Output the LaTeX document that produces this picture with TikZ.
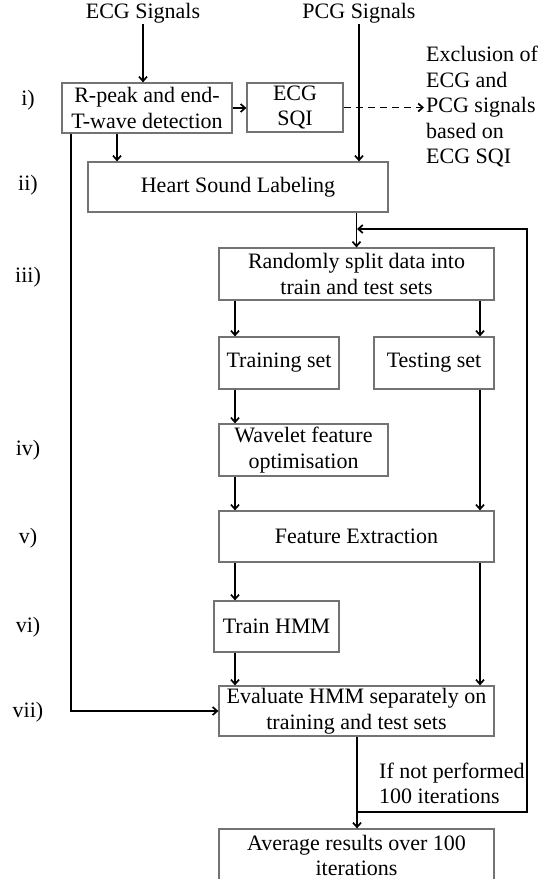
\documentclass[tikz,border=0pt]{standalone}
\usepackage{fontspec}
\setmainfont{Liberation Serif}
\usetikzlibrary{arrows.meta}
\begin{document}
\begin{tikzpicture}[x=1pt,y=-1pt,
  every node/.style={font=\fontsize{22}{25.5}\selectfont},
  box/.style={draw=black!55, line width=1.2pt, fill=white, align=center, inner sep=0pt},
  txt/.style={align=center, inner sep=1pt},
  lbl/.style={inner sep=0pt},
  conn/.style={line width=1.7pt, -{Straight Barb[length=4.5pt,width=8pt]}},
  dconn/.style={line width=1.7pt, dash pattern=on 7pt off 5pt, -{Straight Barb[length=4.5pt,width=8pt]}}
]
\useasboundingbox (0,0) rectangle (558,879);
\fill[white] (0,0) rectangle (558,879);

% helper x levels
\coordinate (xl) at (235,0);
\coordinate (xr) at (480,0);
\coordinate (xe) at (71,0);
\coordinate (xd) at (117,0);

% nodes
\node[txt] (ecg) at (143,13) {ECG Signals};
\node[txt] (pcg) at (359,13) {PCG Signals};
\node[box, minimum width=170pt, minimum height=50pt] (rpeak) at (147,108) {R-peak and end-\\T-wave detection};
\node[box, minimum width=96pt, minimum height=49pt] (sqi) at (295,107.5) {ECG\\SQI};
\node[align=left, anchor=west, inner sep=2pt] (excl) at (424,107) {Exclusion of\\ECG and\\PCG signals\\based on\\ECG SQI};
\node[box, minimum width=300pt, minimum height=50pt] (hsl) at (238,187) {Heart Sound Labeling};
\node[box, minimum width=275pt, minimum height=52pt] (split) at (356.5,274) {Randomly split data into\\train and test sets};
\node[box, minimum width=120pt, minimum height=52pt] (train) at (279,363) {Training set};
\node[box, minimum width=120pt, minimum height=52pt] (test) at (434,363) {Testing set};
\node[box, minimum width=169pt, minimum height=52pt] (wave) at (303.5,450) {Wavelet feature\\optimisation};
\node[box, minimum width=275pt, minimum height=51pt] (fe) at (356.5,536.5) {Feature Extraction};
\node[box, minimum width=125pt, minimum height=51pt] (hmm) at (276.5,626.5) {Train HMM};
\node[box, minimum width=275pt, minimum height=50pt] (eval) at (356.5,711) {Evaluate HMM separately on\\training and test sets};
\node[box, minimum width=275pt, minimum height=53pt] (avg) at (356.5,855.5) {Average results over 100\\iterations};
\node[align=left, anchor=west, inner sep=2pt] (ifnot) at (377,783.5) {If not performed\\100 iterations};

% step labels
\node[lbl] (l1) at (28,100) {i)};
\node[lbl] (l2) at (28,185) {ii)};
\node[lbl] (l3) at (28,277) {iii)};
\node[lbl] (l4) at (28,450) {iv)};
\node[lbl] (l5) at (28,538) {v)};
\node[lbl] (l6) at (28,627) {vi)};
\node[lbl] (l7) at (28,712) {vii)};

% loop coordinates
\coordinate (j) at (357,812);
\coordinate (rt) at (527,229);
\coordinate (k) at (357,229);

% connectors
\draw[conn] (ecg.south) -- (ecg.south |- rpeak.north);
\draw[conn] (pcg.south) -- (pcg.south |- hsl.north);
\draw[conn] (rpeak.east) -- (rpeak.east -| sqi.west);
\draw[dconn] (sqi.east) -- (sqi.east -| excl.west);
\draw[conn] (rpeak.south -| xd) -- (hsl.north -| xd);
\draw[conn] (rpeak.south -| xe) |- (eval.west);
\draw[conn] (hsl.south -| split.north) -- (split.north);
\draw[conn] (split.south -| xl) -- (train.north -| xl);
\draw[conn] (split.south -| xr) -- (test.north -| xr);
\draw[conn] (train.south -| xl) -- (wave.north -| xl);
\draw[conn] (wave.south -| xl) -- (fe.north -| xl);
\draw[conn] (test.south -| xr) -- (fe.north -| xr);
\draw[conn] (fe.south -| xl) -- (hmm.north -| xl);
\draw[conn] (hmm.south -| xl) -- (eval.north -| xl);
\draw[conn] (fe.south -| xr) -- (eval.north -| xr);
\draw[conn] (eval.south -| j) -- (avg.north -| j);
\draw[conn] (j) -| (rt) -- (k);
\end{tikzpicture}
\end{document}
